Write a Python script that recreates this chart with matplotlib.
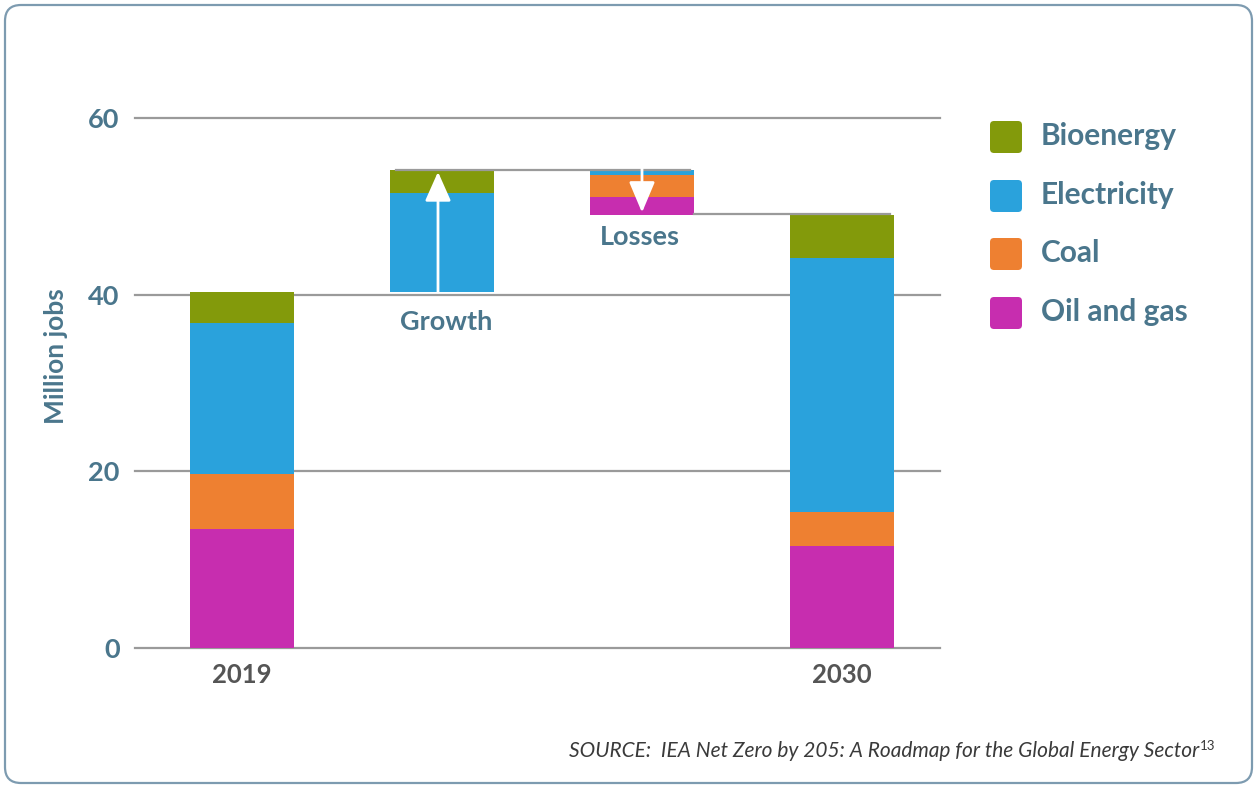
import matplotlib
matplotlib.use("Agg")
import matplotlib.pyplot as plt
from matplotlib.patches import FancyBboxPatch
import numpy as np

plt.rcParams['font.family'] = ['Lato', 'DejaVu Sans']

# ---- data ----
categories = ['Oil and gas', 'Coal', 'Electricity', 'Bioenergy']   # stacking order (bottom -> top)
colors = ['#c72daf', '#ee8031', '#2aa2dc', '#839a0b']
bar_labels = ['2019', '', '', '2030']
jobs_2019 = [13.5, 6.2, 17.1, 3.5]
growth = [0.0, 0.0, 11.2, 2.6]
losses = [2.0, 2.6, 0.5, 0.0]
jobs_2030 = [11.5, 3.9, 28.8, 4.8]
yticks = [0, 20, 40, 60]

TXT = '#4a768c'
GRID = '#9a9a9a'

W, H = 1256, 787
fig = plt.figure(figsize=(W / 100, H / 100), dpi=100)

# background overlay axes in pixel coordinates (frame + legend)
bg = fig.add_axes([0, 0, 1, 1])
bg.set_xlim(0, W)
bg.set_ylim(0, H)
bg.axis('off')
frame = FancyBboxPatch((5, 4), 1247, 778, boxstyle='round,pad=0,rounding_size=16',
                       facecolor='white', edgecolor='#7d9bb0', linewidth=1.6)
bg.add_patch(frame)

# legend (top to bottom: Bioenergy, Electricity, Coal, Oil and gas)
leg_y = [137, 196, 254, 313]
for i, (cat, col) in enumerate(zip(categories[::-1], colors[::-1])):
    yc = H - leg_y[i]
    bg.add_patch(FancyBboxPatch((990, yc - 16), 32, 32, boxstyle='round,pad=0,rounding_size=4',
                                facecolor=col, edgecolor='none'))
    bg.text(1041, yc + 1, cat, fontsize=21.5, fontweight='bold', color=TXT, va='center', ha='left')

# main axes
ax = fig.add_axes([135 / W, 1 - 648 / H, (940 - 135) / W, (648 - 118) / H])
ax.set_xlim(-0.535, 3.49)
ax.set_ylim(0, 60)
for s in ax.spines.values():
    s.set_visible(False)
ax.set_facecolor('none')

for t in yticks:
    ax.axhline(t, color=GRID, lw=1.6, zorder=1, clip_on=False)

bw = 0.52
x = np.arange(4)

# 2019
bottom = 0.0
for v, c in zip(jobs_2019, colors):
    ax.bar(x[0], v, bw, bottom=bottom, color=c, zorder=2)
    bottom += v
total_2019 = bottom

# growth
bottom = total_2019
for v, c in zip(growth, colors):
    if v > 0:
        ax.bar(x[1], v, bw, bottom=bottom, color=c, zorder=2)
    bottom += v
peak = bottom

# losses
bottom = peak - sum(losses)
loss_bottom = bottom
for v, c in zip(losses, colors):
    if v > 0:
        ax.bar(x[2], v, bw, bottom=bottom, color=c, zorder=2)
    bottom += v

# 2030
bottom = 0.0
for v, c in zip(jobs_2030, colors):
    ax.bar(x[3], v, bw, bottom=bottom, color=c, zorder=2)
    bottom += v

# connector lines
ax.plot([x[1] - bw / 2 + 0.03, x[2] + bw / 2 - 0.02], [peak + 0.05, peak + 0.05], color=GRID, lw=1.6, zorder=3)
ax.plot([x[2] + bw / 2, x[3] + bw / 2 - 0.02], [loss_bottom + 0.1, loss_bottom + 0.1], color=GRID, lw=1.6, zorder=3)

# arrows
ax.annotate('', xy=(x[1] - 0.02, peak - 0.2), xytext=(x[1] - 0.02, total_2019),
            arrowprops=dict(arrowstyle='-|>,head_length=1.8,head_width=0.8', color='white',
                            lw=2, mutation_scale=10, shrinkA=0, shrinkB=0), zorder=4)
ax.annotate('', xy=(x[2], loss_bottom + 0.3), xytext=(x[2], peak + 0.3),
            arrowprops=dict(arrowstyle='-|>,head_length=1.9,head_width=0.8', color='white',
                            lw=2, mutation_scale=10, shrinkA=0, shrinkB=0), zorder=4)

ax.text(1.02, 36.9, 'Growth', fontsize=19.5, fontweight='bold', color=TXT, ha='center', va='center')
ax.text(1.99, 46.5, 'Losses', fontsize=19.5, fontweight='bold', color=TXT, ha='center', va='center')

ax.set_yticks(yticks)
ax.set_yticklabels([str(t) for t in yticks], fontsize=19.5, fontweight='bold', color=TXT)
ax.tick_params(axis='y', length=0, pad=11)
ax.set_xticks(x)
ax.set_xticklabels(bar_labels, fontsize=18.5, fontweight='bold', color='#555555')
ax.tick_params(axis='x', length=0, pad=11)

fig.text(56 / W, 1 - 356 / H, 'Million jobs', rotation=90, fontsize=19, fontweight='bold',
         color=TXT, ha='center', va='center')

fig.text(1199 / W, 1 - 757 / H, 'SOURCE:  IEA Net Zero by 205: A Roadmap for the Global Energy Sector',
         fontsize=15, fontstyle='italic', fontweight='normal', color='#3a3a3a', ha='right', va='baseline')
fig.text(1200 / W, 1 - 750 / H, '13', fontsize=9.5, fontweight='normal', color='#3a3a3a',
         ha='left', va='baseline')

fig.savefig('out.png', dpi=100)
